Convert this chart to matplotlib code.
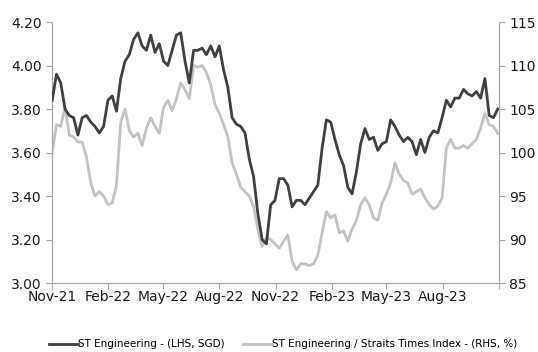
import pandas as pd
import numpy as np
import matplotlib.pyplot as plt
import matplotlib.dates as mdates

# weekly readings, Nov-21 to end Oct-23
dates = pd.date_range('2021-11-01', periods=105, freq='7D')

# ST Engineering share price (LHS, SGD)
ste_price = [3.84, 3.96, 3.92, 3.80, 3.77, 3.76, 3.68, 3.76, 3.77, 3.74,
             3.72, 3.69, 3.72, 3.84, 3.86, 3.79, 3.94, 4.02, 4.05, 4.12,
             4.15, 4.09, 4.07, 4.14, 4.06, 4.10, 4.02, 4.00, 4.07, 4.14,
             4.15, 4.02, 3.92, 4.07, 4.07, 4.08, 4.05, 4.09, 4.04, 4.09,
             3.98, 3.90, 3.76, 3.73, 3.72, 3.69, 3.57, 3.49, 3.32, 3.20,
             3.18, 3.36, 3.38, 3.48, 3.48, 3.45, 3.35, 3.38, 3.38, 3.36,
             3.39, 3.42, 3.45, 3.62, 3.75, 3.74, 3.66, 3.59, 3.54, 3.44,
             3.41, 3.51, 3.64, 3.71, 3.66, 3.67, 3.61, 3.64, 3.65, 3.75,
             3.72, 3.68, 3.65, 3.67, 3.65, 3.59, 3.66, 3.60, 3.67, 3.70,
             3.69, 3.76, 3.84, 3.81, 3.85, 3.85, 3.89, 3.87, 3.86, 3.88,
             3.85, 3.94, 3.77, 3.76, 3.80]

# ST Engineering relative to Straits Times Index (RHS, %)
ste_rel = [100.0, 103.2, 103.0, 105.2, 102.0, 101.8, 101.2, 101.2, 99.5, 96.5,
           95.0, 95.5, 95.0, 94.0, 94.2, 96.2, 103.5, 105.0, 102.5, 101.8,
           102.2, 100.8, 102.8, 104.0, 103.0, 102.2, 105.2, 106.0, 104.8, 106.2,
           108.0, 107.2, 106.2, 110.0, 109.8, 110.0, 109.2, 107.8, 105.5, 104.5,
           103.2, 101.8, 98.8, 97.5, 96.0, 95.5, 95.0, 93.8, 91.2, 89.2,
           90.2, 90.0, 89.5, 89.0, 89.8, 90.5, 87.5, 86.5, 87.2, 87.2,
           87.0, 87.2, 88.2, 90.8, 93.2, 92.5, 92.8, 90.8, 91.0, 89.8,
           91.2, 92.2, 94.0, 94.8, 94.0, 92.5, 92.2, 94.2, 95.2, 96.5,
           98.8, 97.5, 96.8, 96.5, 95.2, 95.5, 95.8, 94.8, 94.0, 93.5,
           93.8, 94.8, 100.5, 101.5, 100.5, 100.5, 100.8, 100.5, 101.0, 101.5,
           102.8, 104.5, 103.2, 103.0, 102.2]

tick_dates = pd.date_range('2021-11-01', '2023-11-01', freq='3MS')
tick_labels = [d.strftime('%b-%y') for d in tick_dates[:-1]] + ['']

plt.rcParams['font.family'] = ['DejaVu Sans']
plt.rcParams['font.size'] = 10

fig = plt.figure(figsize=(5.38, 3.52), dpi=100)
ax = fig.add_axes([0.097, 0.196, 0.8305, 0.7415])
ax2 = ax.twinx()

l1, = ax.plot(dates, ste_price, color='#404040', linewidth=2,
              label='ST Engineering - (LHS, SGD)', zorder=3)
l2, = ax2.plot(dates, ste_rel, color='#c3c3c3', linewidth=2,
               label='ST Engineering / Straits Times Index - (RHS, %)', zorder=2)
ax.set_zorder(ax2.get_zorder() + 1)
ax.patch.set_visible(False)

ax.set_xlim(tick_dates[0], tick_dates[-1])
ax.set_ylim(3.0, 4.2)
ax.set_yticks(np.arange(3.0, 4.21, 0.2))
ax.set_yticklabels(['%.2f' % v for v in np.arange(3.0, 4.21, 0.2)])
ax2.set_ylim(85, 115)
ax2.set_yticks(range(85, 116, 5))
ax.set_xticks(tick_dates)
ax.set_xticklabels(tick_labels)

for a in (ax, ax2):
    a.spines['top'].set_visible(False)
    for s in ('left', 'right', 'bottom'):
        a.spines[s].set_color('#a6a6a6')
    a.tick_params(colors='#a6a6a6', labelcolor='#1a1a1a', length=4, direction='out')
ax.tick_params(axis='x', pad=1)

fig.legend(handles=[l1, l2], loc='center', bbox_to_anchor=(0.526, 0.022), ncol=2,
           frameon=False, fontsize=7.5, handlelength=2.8, handletextpad=0.0,
           columnspacing=1.8, borderpad=0)

plt.savefig('out.png', dpi=100)
plt.close()
